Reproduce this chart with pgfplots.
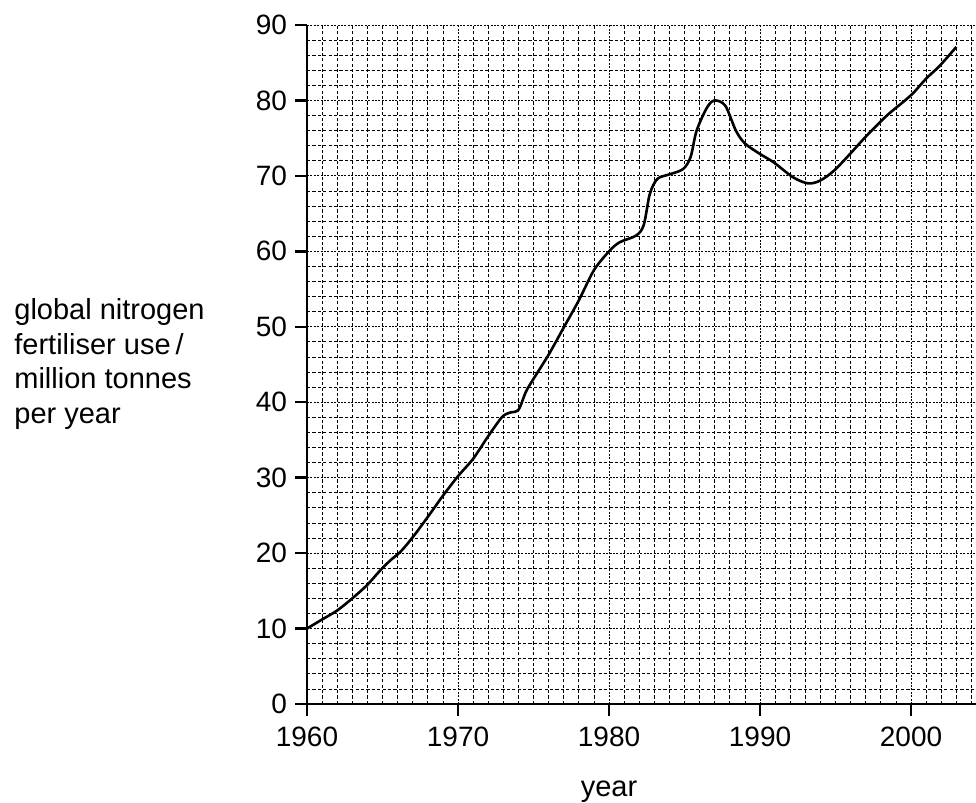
\documentclass[border=0pt]{standalone}
\usepackage{pgfplots}
\pgfplotsset{compat=1.18}
\usepackage{fontspec}
\setmainfont{Liberation Sans}
\begin{document}
\begin{tikzpicture}
\begin{axis}[
  name=ax,
  at={(0,0)}, anchor=south west,
  scale only axis, width=334.5pt, height=339.5pt,
  xmin=1960, xmax=2004.3, ymin=0, ymax=90,
  axis x line*=bottom, axis y line*=left,
  axis line style={line width=1.25pt, black},
  xtick={1960,1970,...,2000}, ytick={0,10,...,90},
  minor xtick={1961,...,1969,1971,1972,...,1979,1981,1982,...,1989,1991,1992,...,1999,2001,2002,2003,2004},
  minor ytick={2,4,6,8,12,14,16,18,22,24,26,28,32,34,36,38,42,44,46,48,52,54,56,58,62,64,66,68,72,74,76,78,82,84,86,88},
  xmajorgrids, ymajorgrids, xminorgrids, yminorgrids,
  major grid style={black, line width=0.5pt, dash pattern=on 1pt off 0.7pt},
  minor grid style={black, line width=0.4pt, dash pattern=on 1.6pt off 1.1pt},
  tick align=outside, major tick length=5.8pt, minor tick length=0pt,
  tick style={line width=1.2pt, black},
  /pgf/number format/assume math mode=true,
  /pgf/number format/1000 sep={},
  tick label style={font=\fontsize{14}{16}\selectfont, inner sep=0pt, outer sep=0pt},
  xticklabel style={anchor=base, yshift=-15.5pt},
  yticklabel style={anchor=east, xshift=-4.2pt},
  clip=false,
]
\addplot[black, line width=1.3pt, smooth, tension=0.5] table {
1960 10.0
1961 11.2
1962 12.4
1963 14.0
1964 15.8
1964.8 17.6
1965.5 19.0
1966.2 20.2
1967 22.1
1968 24.8
1969 27.6
1970 30.2
1971 32.5
1972 35.5
1972.9 38.0
1973.4 38.6
1974 39.0
1974.5 41.4
1975 43.1
1976 46.3
1977 49.9
1978 53.5
1979 57.5
1980 60.0
1980.7 61.2
1981.8 62.1
1982.3 63.5
1982.7 67.6
1983.2 69.6
1984 70.2
1984.9 70.9
1985.4 72.5
1985.8 76.0
1986.5 79.1
1987 80.0
1987.7 79.3
1988.4 76.0
1989 74.3
1990 72.9
1990.9 71.8
1992.2 69.8
1993.2 69.0
1994 69.4
1994.9 70.7
1996 73.0
1997 75.2
1998.4 78.0
1999.6 80.0
2000.2 81.1
2001 82.9
2001.9 84.6
2003 87.1
};
\end{axis}
\begin{scope}[font=\fontsize{14.5}{16}\selectfont]
\node[anchor=base west, inner sep=0pt] at (-146.5pt,192pt) {global nitrogen};
\node[anchor=base west, inner sep=0pt] at (-146.5pt,174.75pt) {fertiliser use\,/};
\node[anchor=base west, inner sep=0pt] at (-146.5pt,157.5pt) {million tonnes};
\node[anchor=base west, inner sep=0pt] at (-146.5pt,140pt) {per year};
\node[anchor=base, inner sep=0pt] at (151pt,-46.3pt) {year};
\end{scope}
\pgfresetboundingbox
\path[use as bounding box] (-153.5pt,-49.5pt) rectangle (334.5pt,352pt);
\end{tikzpicture}
\end{document}
